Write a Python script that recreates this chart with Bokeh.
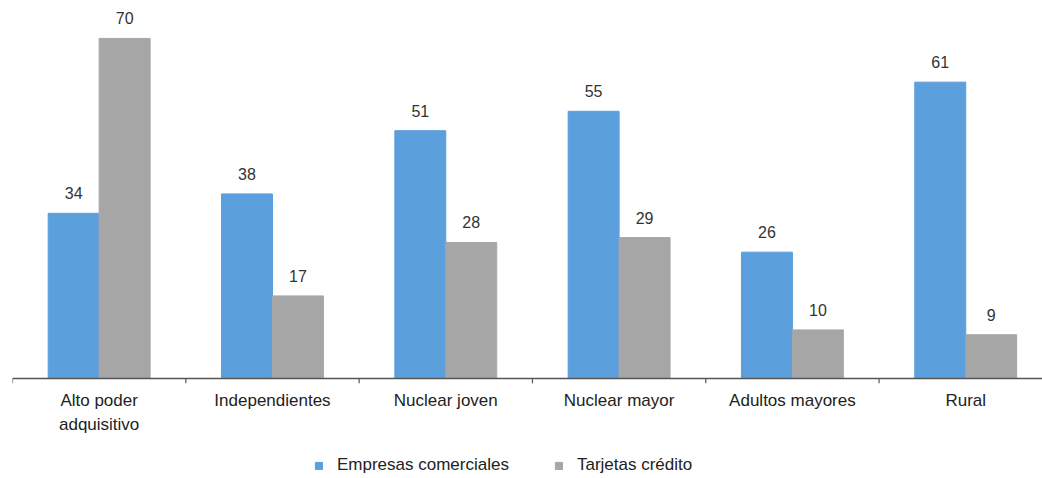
from bokeh.plotting import figure
from bokeh.models import ColumnDataSource, Range1d, Legend, LegendItem, LabelSet, Span
from bokeh.core.properties import value
from bokeh.embed import file_html
from bokeh.resources import INLINE

categories = ["Alto poder\nadquisitivo", "Independientes", "Nuclear joven",
              "Nuclear mayor", "Adultos mayores", "Rural"]
empresas = [34, 38, 51, 55, 26, 61]
tarjetas = [70, 17, 28, 29, 10, 9]
series_names = ["Empresas comerciales", "Tarjetas crédito"]

BLUE = "#5b9fdd"
GRAY = "#a6a6a6"
AXIS = "#555555"
FONT = "Liberation Sans"
bar_w = 0.294

n = len(categories)
centers = [i + 0.5 for i in range(n)]
bounds = list(range(n + 1))
src_a = ColumnDataSource(dict(x=[c - bar_w / 2 for c in centers], top=empresas,
                              lab=[str(v) for v in empresas]))
src_b = ColumnDataSource(dict(x=[c + bar_w / 2 for c in centers], top=tarjetas,
                              lab=[str(v) for v in tarjetas]))

# the frame spans the whole page; the category axis is drawn by hand at y = 0
p = figure(width=1042, height=478, output_backend="svg", toolbar_location=None,
           x_range=Range1d(0, 5.943), y_range=Range1d(-20.58, 77.8),
           min_border_left=12, min_border_right=0, min_border_top=0, min_border_bottom=0)
p.outline_line_color = None
p.grid.grid_line_color = None
p.axis.visible = False
p.background_fill_color = "white"

ra = p.vbar(x="x", top="top", width=bar_w, bottom=0, source=src_a, color=BLUE)
rb = p.vbar(x="x", top="top", width=bar_w, bottom=0, source=src_b, color=GRAY)

for src in (src_a, src_b):
    p.add_layout(LabelSet(x="x", y="top", text="lab", source=src, text_align="center",
                          text_baseline="bottom", y_offset=14, text_font=value(FONT),
                          text_font_size="16px", text_color="#333333"))

# baseline, boundary ticks and category names
p.add_layout(Span(location=0, dimension="width", line_color=AXIS, line_width=1.5))
p.segment(x0=bounds, x1=bounds, y0=[0] * len(bounds), y1=[-1.0] * len(bounds),
          line_color=AXIS, line_width=1.2)
p.text(x=centers, y=[0] * n, text=categories, text_align="center", text_baseline="top",
       y_offset=12, text_font=value(FONT), text_font_size="17px",
       text_color="#222222", text_line_height=1.3)

legend = Legend(items=[LegendItem(label=series_names[0], renderers=[ra]),
                       LegendItem(label=series_names[1], renderers=[rb])],
                orientation="horizontal", location=(302, 3),
                border_line_color=None, background_fill_alpha=0, padding=2,
                label_text_font=FONT, label_text_font_size="17px",
                label_text_color="#222222", glyph_width=9, glyph_height=9,
                spacing=45, label_standoff=14)
p.add_layout(legend, "center")

open("out.html", "w").write(file_html(p, INLINE))
